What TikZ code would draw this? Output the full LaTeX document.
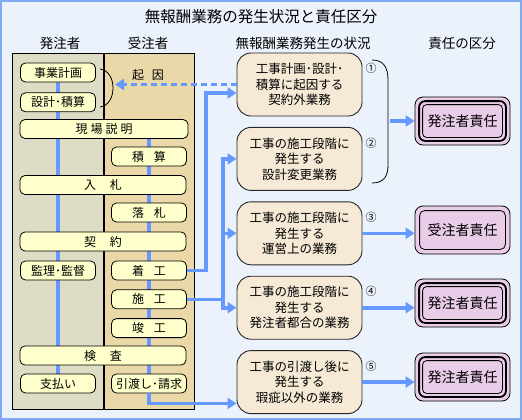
\documentclass[tikz,border=0pt]{standalone}
\usepackage{fontspec}
\setmainfont{Noto Sans CJK JP}
\usetikzlibrary{arrows.meta, positioning, backgrounds, calc}

\definecolor{bgblue}{HTML}{EBF2FB}
\definecolor{frameblue}{HTML}{80AAF2}
\definecolor{flowblue}{HTML}{6699FF}
\definecolor{ordfill}{HTML}{DEDCC4}
\definecolor{contfill}{HTML}{EAD8A8}
\definecolor{stepfill}{HTML}{FFFFCC}
\definecolor{sitfill}{HTML}{F6EAD6}
\definecolor{respfill}{HTML}{E8CCE8}

\begin{document}
\begin{tikzpicture}[
        x=1pt, y=-1pt,
        every node/.style={font=\fontsize{12}{14}\selectfont},
        colbox/.style={
            rectangle, draw=black, line width=0.8pt,
            minimum height=356pt, inner sep=0pt
        },
        stepbox/.style={
            rectangle, rounded corners=5pt, draw=black, line width=0.8pt,
            fill=stepfill, minimum height=19pt, inner sep=0pt
        },
        narrow/.style={stepbox, minimum width=75pt},
        wide/.style={stepbox, minimum width=166pt},
        sitbox/.style={
            rectangle, rounded corners=14pt, draw=black!85, line width=0.9pt,
            fill=sitfill, minimum width=125pt, minimum height=63pt,
            align=center, inner sep=2pt, font=\fontsize{12.5}{15.5}\selectfont
        },
        respbox/.style={
            rectangle, rounded corners=8pt, draw=black, line width=0.8pt,
            fill=respfill, minimum width=95pt, minimum height=48pt,
            font=\fontsize{14}{16}\selectfont
        },
        header/.style={font=\fontsize{13.5}{16}\selectfont},
        num/.style={font=\fontsize{11}{12}\selectfont, inner sep=0pt},
        flow/.style={draw=flowblue, line width=3.6pt},
        flowarr/.style={flow, -{Triangle[length=9pt, width=11pt]}},
        dasharr/.style={flowarr, dash pattern=on 6pt off 4pt}
    ]
    \useasboundingbox (0,0) rectangle (522,420);

% --- Fondo y columnas ---
    \begin{scope}[on background layer]
        \fill[bgblue] (0,0) rectangle (522,420);
        \draw[frameblue, line width=2pt] (1,1) rectangle (521,419);
        \node[colbox, fill=ordfill, minimum width=91.5pt] (ordcol) at (57.75,231) {};
        \node[colbox, fill=contfill, minimum width=90.5pt, right=0pt of ordcol] (contcol) {};
    \end{scope}

% --- Titulos ---
    \node[font=\fontsize{15.5}{18}\selectfont] (title) at (261,17) {無報酬業務の発生状況と責任区分};
    \node[header] (hdorder) at (60,43) {発注者};
    \node[header] (hdcont) at (148,43) {受注者};
    \node[header] (hdsit) at (303,43) {無報酬業務発生の状況};
    \node[header] (hdresp) at (462,43) {責任の区分};

% --- Flujo de obra (columnas) ---
    \node[narrow] (plan) at (58,72.5) {事業計画};
    \node[narrow, below=10pt of plan] (design) {設計･積算};
    \node (cause) at (148,75) {起\hspace{8pt}因};
    \node[stepbox, minimum width=168pt] (briefing) at (104,129) {現\hspace{3pt}場\hspace{3pt}説\hspace{3pt}明};
    \node[narrow] (estimate) at (149,156.5) {積\hspace{10pt}算};
    \node[wide] (bid) at (103,185) {入\hspace{14pt}札};
    \node[narrow] (award) at (149,212.5) {落\hspace{10pt}札};
    \node[wide] (contract) at (103,241.5) {契\hspace{14pt}約};
    \node[narrow] (supervise) at (58,270.5) {監理･監督};
    \node[narrow] (start) at (149,270.5) {着\hspace{10pt}工};
    \node[narrow, below=9pt of start] (construct) {施\hspace{10pt}工};
    \node[narrow, below=9pt of construct] (complete) {竣\hspace{10pt}工};
    \node[wide] (inspect) at (103,355.5) {検\hspace{14pt}査};
    \node[narrow] (pay) at (58,383.5) {支払い};
    \node[narrow] (deliver) at (149,383.5) {引渡し･請求};

    \begin{scope}[on background layer]
        \draw[flow] (plan.south) -- (pay.north);
        \draw[flow] (estimate.north |- briefing.south) -- (deliver.south);
    \end{scope}

% --- Situaciones ---
    \node[sitbox] (s1) at (299.5,84.5) {工事計画･設計･\\積算に起因する\\契約外業務};
    \node[sitbox, below=10.5pt of s1] (s2) {工事の施工段階に\\発生する\\設計変更業務};
    \node[sitbox, below=10.5pt of s2] (s3) {工事の施工段階に\\発生する\\運営上の業務};
    \node[sitbox, below=10.5pt of s3] (s4) {工事の施工段階に\\発生する\\発注者都合の業務};
    \node[sitbox, below=10.5pt of s4] (s5) {工事の引渡し後に\\発生する\\瑕疵以外の業務};

    \foreach \s/\n in {s1/①, s2/②, s3/③, s4/④, s5/⑤}
        \node[num, anchor=west] at ([shift={(3pt,-16pt)}]\s.north east) {\n};

% --- Responsabilidad ---
    \node[respbox] (r1) at (462.5,121) {発注者責任};
    \node[respbox] (r2) at (462.5,230) {受注者責任};
    \node[respbox] (r3) at (462.5,303) {発注者責任};
    \node[respbox] (r4) at (462.5,377) {発注者責任};

    \foreach \r in {r1, r3, r4} {
        \draw[line width=1.8pt, rounded corners=6pt]
            ([shift={(4.5pt,-4.5pt)}]\r.north west) rectangle ([shift={(-4.5pt,4.5pt)}]\r.south east);
        \draw[line width=0.8pt, rounded corners=4pt]
            ([shift={(8pt,-8pt)}]\r.north west) rectangle ([shift={(-8pt,8pt)}]\r.south east);
    }
    \draw[line width=0.8pt, rounded corners=5pt]
        ([shift={(5pt,-5pt)}]r2.north west) rectangle ([shift={(-5pt,5pt)}]r2.south east);

% --- Llaves ---
    \draw[line width=0.8pt] (100,69) .. controls (108,70) and (113,78) .. (113,88) coordinate (causetip)
        .. controls (113,98) and (108,106) .. (100,107);
    \draw[line width=0.8pt] (372,60) .. controls (384,60) and (388,68) .. (388,80)
        -- (388,121) coordinate (bracetip) -- (388,165) .. controls (388,176) and (384,183) .. (372,183);

% --- Flechas ---
    \draw[dasharr] (s1.west) -- ($(s1.west -| causetip)+(2,0)$);
    \draw[flowarr] (start.east) -- ++(19,0) |- ([yshift=-8.5pt]s1.west);
    \draw[flow] (construct.east) -- ++(36,0) coordinate (fork);
    \foreach \s in {s2, s3, s4}
        \draw[flowarr] (fork) |- (\s.west);
    \draw[flowarr] (deliver.south) -- ++(0,10) coordinate (turn) -- (turn -| s5.west);

    \draw[flowarr] ([xshift=2pt]bracetip) -- (bracetip -| r1.west);
    \draw[flowarr] (s3.east) -- (s3.east -| r2.west);
    \draw[flowarr] (s4.east) -- (s4.east -| r3.west);
    \draw[flowarr] (s5.east) -- (s5.east -| r4.west);
\end{tikzpicture}
\end{document}
